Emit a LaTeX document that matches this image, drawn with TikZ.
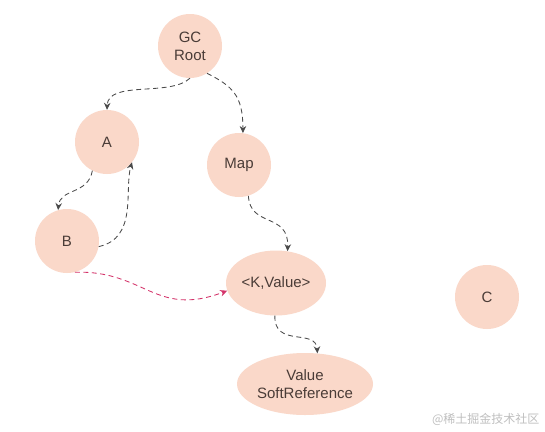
\documentclass[tikz,border=0pt]{standalone}
\usepackage{fontspec}
\setmainfont{Liberation Sans}
\newfontfamily\cjk{Noto Sans CJK SC}
\usetikzlibrary{shapes.geometric,arrows.meta}
\definecolor{peach}{HTML}{FAD8C9}
\definecolor{txt}{HTML}{4A3C37}
\definecolor{edge}{HTML}{4A4A4A}
\definecolor{redge}{HTML}{D4336A}
\tikzset{
  circ/.style={circle,fill=peach,draw=none,minimum size=64pt,inner sep=0pt,text=txt,font=\fontsize{15}{18}\selectfont,align=center},
  ell/.style={ellipse,fill=peach,draw=none,inner sep=0pt,text=txt,font=\fontsize{15}{18}\selectfont,align=center},
  link/.style={draw=edge,line width=0.85pt,dash pattern=on 5pt off 3.5pt,-{Stealth[length=7pt,width=6.5pt]}},
  redlink/.style={link,draw=redge}
}
\begin{document}
\begin{tikzpicture}[x=1pt,y=-1pt]
\useasboundingbox (0,0) rectangle (545,431);
\fill[white] (0,0) rectangle (545,431);
\node[circ] (gc) at (190,46) {GC\\Root};
\node[circ] (a) at (107,142) {A};
\node[circ] (map) at (239,165) {Map};
\node[circ] (b) at (67,241) {B};
\node[ell,minimum width=100pt,minimum height=65pt] (kv) at (276,283) {<K,Value>};
\node[circ] (c) at (487,297) {C};
\node[ell,minimum width=136pt,minimum height=62pt] (vs) at (305,384) {Value\\SoftReference};
\node[font=\cjk\fontsize{12}{14}\selectfont,text=black!25,anchor=east] (wm) at (543,419) {@稀土掘金技术社区};
\draw[link] (gc.270) .. controls (170,97) and (108,80) .. (a.90);
\draw[link] (gc.-58) .. controls (232,86) and (243,95) .. (map.83);
\draw[link] (a.243) .. controls (88,195) and (60,188) .. (b.106);
\draw[link] (b.-10) .. controls (138,238) and (124,190) .. (a.-39);
\draw[link] (map.-73) .. controls (250,228) and (289,212) .. (kv.70);
\draw[redlink] (b.-76) .. controls (145,270) and (155,318) .. (kv.189);
\draw[link] (kv.268) .. controls (274,348) and (316,328) .. (vs.68);
\end{tikzpicture}
\end{document}
